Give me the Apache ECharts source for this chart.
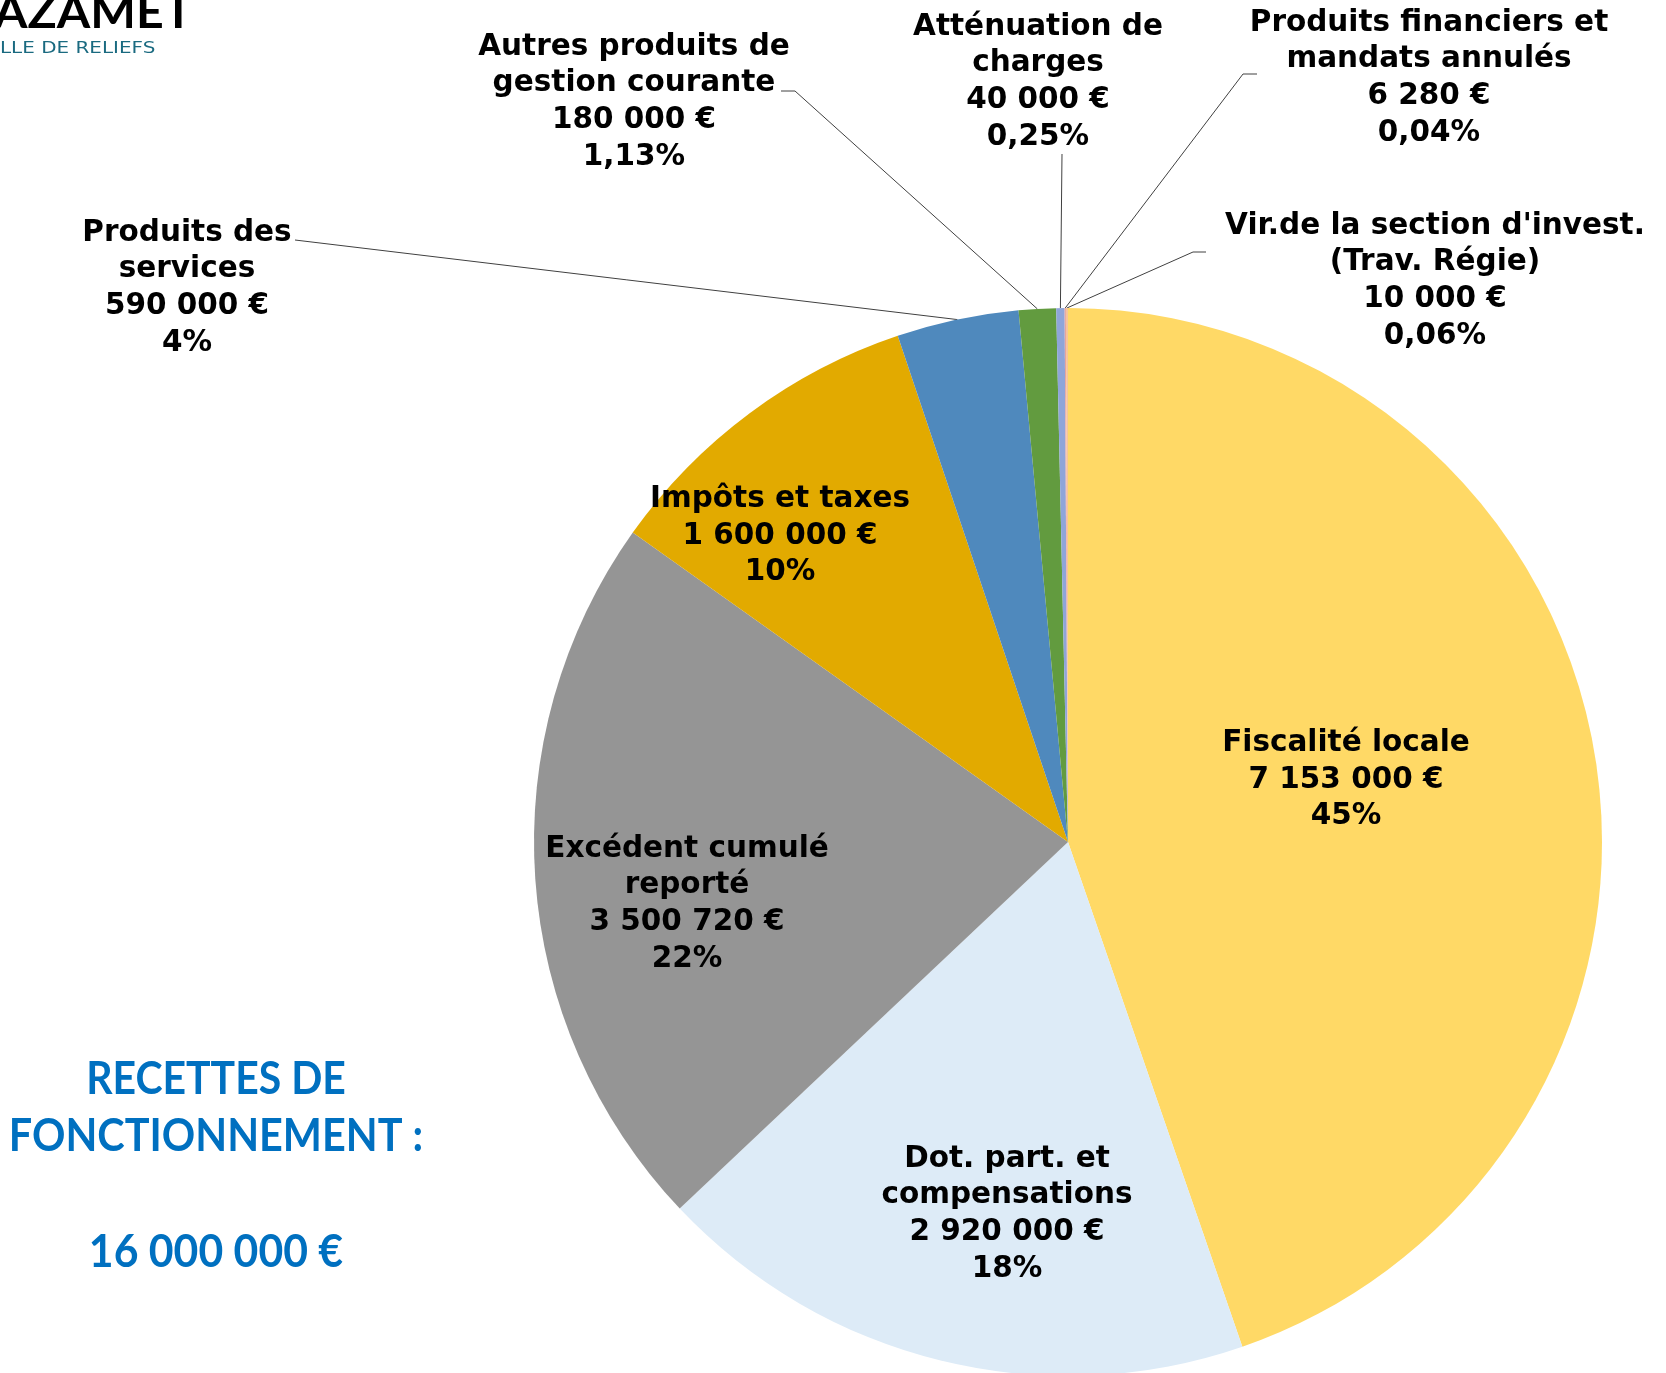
<!DOCTYPE html>
<html><head><meta charset="utf-8">
<script src="https://cdn.jsdelivr.net/npm/echarts@6/dist/echarts.min.js"></script>
<style>html,body{margin:0;padding:0;background:#fff}#c{width:1666px;height:1373px}</style>
</head><body><div id="c"></div>
<script>
const categories = [
  'Fiscalité locale',
  'Dot. part. et\ncompensations',
  'Excédent cumulé\nreporté',
  'Impôts et taxes',
  'Produits des\nservices',
  'Autres produits de\ngestion courante',
  'Atténuation de\ncharges',
  'Produits financiers et\nmandats annulés',
  "Vir.de la section d'invest.\n(Trav. Régie)"
];
const values = [7153000, 2920000, 3500720, 1600000, 590000, 180000, 40000, 6280, 10000];
const pctLabels = ['45%', '18%', '22%', '10%', '4%', '1,13%', '0,25%', '0,04%', '0,06%'];
const totalLines = ['RECETTES DE', 'FONCTIONNEMENT :', '16 000 000 €'];

const colors = ['#FFD966', '#DDEBF7', '#959595', '#E2AA00', '#4F89BD', '#629B3F', '#8FA5D9', '#E9A39E', '#F6C49B'];
// label anchor positions (layout only)
const labelPos = [[1346, 780], [1007, 1214], [687, 904], [780, 536], [187, 288], [634, 102], [1038, 82], [1429, 78], [1435, 281]];
const linePts = [null, null, null, null, [[295, 240]], [[795, 91], [781, 91]], [[1062, 154]], [[1243, 74], [1257, 74]], [[1193, 252], [1206, 252]]];

const fmt = v => String(v).replace(/\B(?=(\d{3})+(?!\d))/g, ' ') + ' €';

const chart = echarts.init(document.getElementById('c'), null, {renderer: 'canvas'});
const data = values.map((v, i) => ({
  name: categories[i],
  value: v,
  itemStyle: {color: colors[i]},
  labelLine: {show: !!linePts[i]}
}));

chart.setOption({
  animation: false,
  series: [{
    type: 'pie',
    center: [1068, 842],
    radius: 534,
    startAngle: 90,
    clockwise: true,
    avoidLabelOverlap: false,
    minAngle: 0,
    emphasis: {disabled: true},
    itemStyle: {borderWidth: 0},
    label: {
      show: true,
      position: 'outside',
      color: '#000',
      fontFamily: 'DejaVu Sans',
      fontWeight: 'bold',
      fontSize: 29.5,
      lineHeight: 36.7,
      align: 'center',
      formatter: p => categories[p.dataIndex] + '\n' + fmt(values[p.dataIndex]) + '\n' + pctLabels[p.dataIndex]
    },
    labelLine: {show: true, lineStyle: {color: '#404040', width: 1}},
    labelLayout: function (params) {
      const i = params.dataIndex;
      const p = labelPos[i];
      const res = {x: p[0], y: p[1], align: 'center', verticalAlign: 'middle'};
      if (linePts[i] && params.labelLinePoints) {
        const pts = [params.labelLinePoints[0]].concat(linePts[i]);
        while (pts.length < 3) pts.push(pts[pts.length - 1]);
        res.labelLinePoints = pts;
      }
      return res;
    },
    data: data
  }],
  graphic: [
    {
      type: 'text', x: -6, y: -10, scaleX: 1.05,
      style: {
        text: 'AZAMET', font: 'bold 46px Lato',
        fill: new echarts.graphic.LinearGradient(0, 0, 1, 0, [{offset: 0, color: '#0E4F6B'}, {offset: 1, color: '#0B8A56'}])
      }
    },
    {
      type: 'text', x: 0, y: 42, scaleX: 1.33,
      style: {text: 'LLE DE RELIEFS', font: '15px "DejaVu Sans"', fill: '#1A6A80'}
    },
    {
      type: 'text', x: 216, y: 1079, scaleX: 0.91,
      style: {text: totalLines[0], font: 'bold 45px Lato', fill: '#0070C0', align: 'center', verticalAlign: 'middle'}
    },
    {
      type: 'text', x: 216, y: 1136, scaleX: 0.92,
      style: {text: totalLines[1], font: 'bold 45px Lato', fill: '#0070C0', align: 'center', verticalAlign: 'middle'}
    },
    {
      type: 'text', x: 216, y: 1252, scaleX: 0.95,
      style: {text: totalLines[2], font: 'bold 45px Lato', fill: '#0070C0', align: 'center', verticalAlign: 'middle'}
    }
  ]
});
</script>
</body></html>
